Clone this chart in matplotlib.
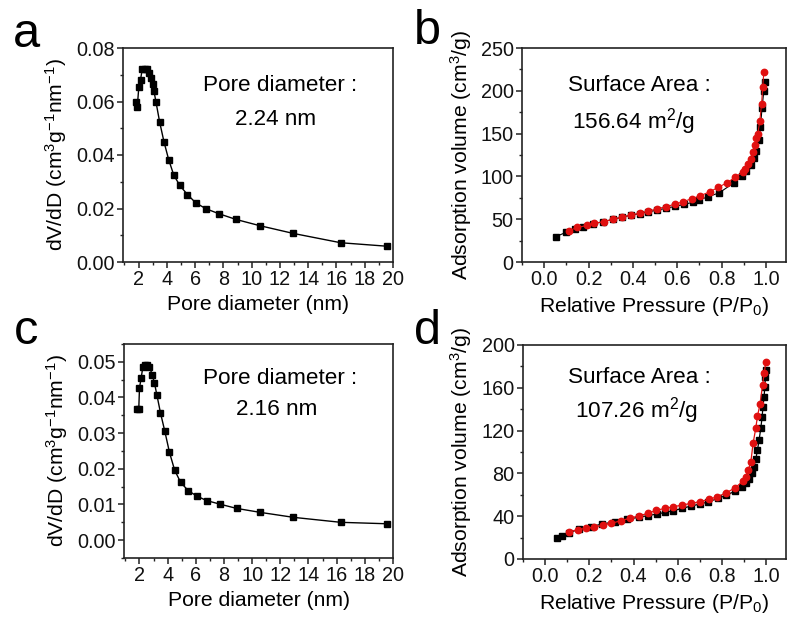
import matplotlib
matplotlib.use("Agg")
import matplotlib.pyplot as plt
from matplotlib.ticker import MultipleLocator, FormatStrFormatter

plt.rcParams['font.family'] = ['Liberation Sans', 'DejaVu Sans']
plt.rcParams['mathtext.default'] = 'regular'

# ---- Data ----
# Panel a: pore size distribution
a_d = [1.79, 1.91, 2.02, 2.14, 2.26, 2.43, 2.59, 2.73, 2.90, 3.02, 3.09, 3.23, 3.49, 3.80,
       4.13, 4.49, 4.92, 5.46, 6.05, 6.77, 7.71, 8.90, 10.56, 12.93, 16.3, 19.57]
a_v = [0.0599, 0.0580, 0.0655, 0.0682, 0.0720, 0.0722, 0.0720, 0.0705, 0.0689, 0.0667,
       0.0639, 0.0599, 0.0524, 0.0449, 0.0383, 0.0325, 0.0286, 0.0252, 0.0221, 0.0199,
       0.0180, 0.0159, 0.0136, 0.0107, 0.0072, 0.0059]

# Panel c: pore size distribution
c_d = [1.79, 1.95, 2.00, 2.12, 2.24, 2.38, 2.55, 2.71, 2.90, 3.06, 3.23, 3.49, 3.80,
       4.13, 4.49, 4.92, 5.46, 6.05, 6.77, 7.71, 8.90, 10.56, 12.93, 16.3, 19.57]
c_v = [0.0369, 0.0369, 0.0427, 0.0455, 0.0486, 0.0491, 0.0491, 0.0486, 0.0464, 0.0441,
       0.0408, 0.0357, 0.0305, 0.0246, 0.0197, 0.0162, 0.0139, 0.0124, 0.0111, 0.0101,
       0.0089, 0.0078, 0.0064, 0.0050, 0.0046]

# Panel b: isotherm (adsorption black, desorption red)
b_ads_p = [0.052, 0.099, 0.139, 0.176, 0.22, 0.265, 0.31, 0.35, 0.39, 0.43, 0.47, 0.51,
           0.55, 0.59, 0.63, 0.67, 0.70, 0.74, 0.79, 0.855, 0.89, 0.91, 0.93, 0.945,
           0.957, 0.967, 0.975, 0.982, 0.99, 0.995]
b_ads_v = [29.6, 34.7, 38.2, 41.3, 44.4, 47.1, 49.8, 52.3, 54.6, 56.6, 58.6, 60.6,
           62.8, 65.0, 67.2, 69.8, 72.8, 76.2, 81.0, 92.5, 100.0, 106.0, 113.0, 122.0,
           130.0, 142.0, 158.0, 180.0, 200.0, 210.0]
b_des_p = [0.99, 0.985, 0.98, 0.972, 0.963, 0.957, 0.95, 0.94, 0.93, 0.92, 0.907, 0.895,
           0.86, 0.825, 0.785, 0.746, 0.704, 0.666, 0.626, 0.588, 0.547, 0.51, 0.47,
           0.43, 0.39, 0.35, 0.31, 0.27, 0.225, 0.195, 0.15, 0.11]
b_des_v = [222.3, 204.0, 185.0, 165.0, 150.0, 145.0, 137.0, 129.0, 120.0, 115.0, 109.0,
           105.0, 99.0, 92.7, 87.3, 82.0, 77.5, 74.0, 70.5, 67.4, 64.6, 62.0, 59.6,
           56.9, 55.0, 52.2, 50.2, 47.0, 45.5, 42.7, 40.4, 36.5]

# Panel d: isotherm
d_ads_p = [0.053, 0.078, 0.108, 0.153, 0.206, 0.258, 0.315, 0.37, 0.424, 0.466, 0.506,
           0.544, 0.58, 0.62, 0.66, 0.70, 0.738, 0.784, 0.82, 0.86, 0.89, 0.907, 0.922,
           0.934, 0.944, 0.953, 0.961, 0.968, 0.976, 0.982, 0.986, 0.991, 0.994, 0.997, 1.0]
d_ads_v = [19.3, 21.8, 24.6, 27.7, 30.2, 32.7, 34.8, 37.0, 39.0, 40.6, 42.0, 43.6, 45.1,
           47.3, 49.5, 51.3, 53.5, 56.6, 59.7, 63.4, 67.5, 71.2, 75.0, 80.0, 86.2, 93.0,
           101.8, 111.0, 122.0, 133.0, 142.5, 151.7, 161.0, 170.0, 177.0]
d_des_p = [0.999, 0.991, 0.984, 0.972, 0.961, 0.953, 0.941, 0.931, 0.919, 0.907, 0.896,
           0.86, 0.82, 0.78, 0.74, 0.70, 0.66, 0.62, 0.58, 0.544, 0.504, 0.466, 0.424,
           0.382, 0.342, 0.30, 0.263, 0.222, 0.185, 0.147, 0.106]
d_des_v = [184.4, 173.5, 162.5, 144.4, 133.5, 122.0, 108.0, 90.8, 83.0, 76.8, 73.0, 66.5,
           61.9, 58.2, 55.7, 53.5, 52.0, 50.4, 48.8, 47.3, 45.7, 42.6, 40.4, 38.0, 35.8,
           33.3, 31.8, 29.6, 28.7, 27.4, 25.2]

pore_ticks = [2, 4, 6, 8, 10, 12, 14, 16, 18, 20]
p_ticks = [0.0, 0.2, 0.4, 0.6, 0.8, 1.0]

# ---- Figure ----
W, H = 789, 621
fig = plt.figure(figsize=(W / 100, H / 100), dpi=100)


def box(l, t, r, b):
    return [l / W, 1 - b / H, (r - l) / W, (b - t) / H]


axa = fig.add_axes(box(123, 48, 393, 262))
axb = fig.add_axes(box(522, 48, 786, 262))
axc = fig.add_axes(box(124, 344, 393, 558))
axd = fig.add_axes(box(523, 345, 786, 559))

TICK_FS = 14.3
LAB_FS = 15.2
ANN_FS = 16.2


def style(ax):
    for s in ax.spines.values():
        s.set_linewidth(1.2)
        s.set_color('#222222')
    ax.tick_params(which='major', direction='out', length=4, width=1.1,
                   labelsize=TICK_FS, pad=2, colors='#222222', labelcolor='#111111')
    ax.tick_params(which='minor', direction='out', length=2.2, width=1.0, colors='#222222')


# Panel a
axa.plot(a_d, a_v, '-s', color='black', lw=1.0, ms=5)
axa.set_xlim(0.9, 20)
axa.set_ylim(0, 0.08)
axa.set_xticks(pore_ticks)
axa.xaxis.set_minor_locator(MultipleLocator(1))
axa.yaxis.set_major_locator(MultipleLocator(0.02))
axa.yaxis.set_minor_locator(MultipleLocator(0.01))
axa.yaxis.set_major_formatter(FormatStrFormatter('%.2f'))
axa.set_xlabel('Pore diameter (nm)', fontsize=LAB_FS, labelpad=4)
axa.set_ylabel('dV/dD (cm$^{3}$g$^{-1}$nm$^{-1}$)', fontsize=LAB_FS, labelpad=5)
axa.text(0.296, 0.827, 'Pore diameter :', transform=axa.transAxes, fontsize=ANN_FS,
         va='center', ha='left')
axa.text(0.415, 0.664, '2.24 nm', transform=axa.transAxes, fontsize=ANN_FS,
         va='center', ha='left')
style(axa)

# Panel c
axc.plot(c_d, c_v, '-s', color='black', lw=1.0, ms=5)
axc.set_xlim(0.9, 20)
axc.set_ylim(-0.005, 0.055)
axc.set_xticks(pore_ticks)
axc.xaxis.set_minor_locator(MultipleLocator(1))
axc.yaxis.set_major_locator(MultipleLocator(0.01))
axc.yaxis.set_minor_locator(MultipleLocator(0.005))
axc.yaxis.set_major_formatter(FormatStrFormatter('%.2f'))
axc.set_xlabel('Pore diameter (nm)', fontsize=LAB_FS, labelpad=4)
axc.set_ylabel('dV/dD (cm$^{3}$g$^{-1}$nm$^{-1}$)', fontsize=LAB_FS, labelpad=5)
axc.text(0.295, 0.841, 'Pore diameter :', transform=axc.transAxes, fontsize=ANN_FS,
         va='center', ha='left')
axc.text(0.415, 0.696, '2.16 nm', transform=axc.transAxes, fontsize=ANN_FS,
         va='center', ha='left')
style(axc)

# Panel b
axb.plot(b_ads_p, b_ads_v, '-s', color='black', lw=0.8, ms=4.2, zorder=2)
axb.plot(b_des_p, b_des_v, '-o', color='#e01010', mec='#e01010', lw=0.8, ms=4.6,
         zorder=3)
axb.set_xlim(-0.1, 1.09)
axb.set_ylim(0, 250)
axb.set_xticks(p_ticks)
axb.xaxis.set_minor_locator(MultipleLocator(0.1))
axb.yaxis.set_major_locator(MultipleLocator(50))
axb.yaxis.set_minor_locator(MultipleLocator(25))
axb.xaxis.set_major_formatter(FormatStrFormatter('%.1f'))
axb.set_xlabel('Relative Pressure (P/P$_{0}$)', fontsize=LAB_FS, labelpad=4)
axb.set_ylabel('Adsorption volume (cm$^{3}$/g)', fontsize=LAB_FS, labelpad=5)
axb.text(0.174, 0.827, 'Surface Area :', transform=axb.transAxes, fontsize=ANN_FS,
         va='center', ha='left')
axb.text(0.191, 0.654, '156.64 m$^{2}$/g', transform=axb.transAxes, fontsize=ANN_FS,
         va='center', ha='left')
style(axb)

# Panel d
axd.plot(d_ads_p, d_ads_v, '-s', color='black', lw=0.9, ms=4.2, zorder=2)
axd.plot(d_des_p, d_des_v, '-o', color='#e01010', mec='#e01010', lw=0.9, ms=4.6,
         zorder=3)
axd.set_xlim(-0.1, 1.09)
axd.set_ylim(0, 200)
axd.set_xticks(p_ticks)
axd.xaxis.set_minor_locator(MultipleLocator(0.1))
axd.yaxis.set_major_locator(MultipleLocator(40))
axd.yaxis.set_minor_locator(MultipleLocator(20))
axd.xaxis.set_major_formatter(FormatStrFormatter('%.1f'))
axd.set_xlabel('Relative Pressure (P/P$_{0}$)', fontsize=LAB_FS, labelpad=4)
axd.set_ylabel('Adsorption volume (cm$^{3}$/g)', fontsize=LAB_FS, labelpad=5)
axd.text(0.171, 0.85, 'Surface Area :', transform=axd.transAxes, fontsize=ANN_FS,
         va='center', ha='left')
axd.text(0.198, 0.696, '107.26 m$^{2}$/g', transform=axd.transAxes, fontsize=ANN_FS,
         va='center', ha='left')
style(axd)

# Panel letters
for ch, x, y in [('a', 26, 47), ('b', 427, 44), ('c', 26, 344), ('d', 427, 344)]:
    fig.text(x / W, 1 - y / H, ch, fontsize=35, ha='center', va='baseline')

fig.savefig('out.png', dpi=100)
